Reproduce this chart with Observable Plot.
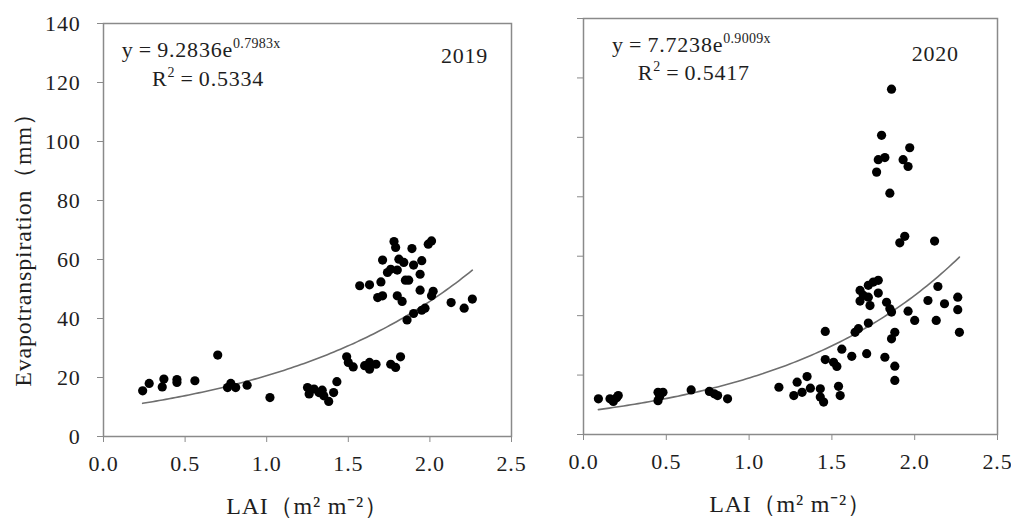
<!DOCTYPE html>
<html>
<head>
<meta charset="utf-8">
<script src="https://cdn.jsdelivr.net/npm/d3@7"></script>
<script src="https://cdn.jsdelivr.net/npm/@observablehq/plot@0.6"></script>
<style>
  html, body { margin: 0; padding: 0; background: #fff; }
  #wrap { position: relative; width: 1011px; height: 522px; overflow: hidden; }
  #left, #right { position: absolute; top: 0; }
  #left { left: 0; }
  #right { left: 520px; }
</style>
</head>
<body>
<div id="wrap"><div id="left"></div><div id="right"></div></div>
<script>
// ---- data ----
const lai2019 = [0.24,0.28,0.36,0.37,0.45,0.45,0.56,0.70,0.76,0.78,0.81,0.88,1.02,
  1.25,1.26,1.29,1.32,1.34,1.35,1.38,1.41,1.43,1.49,1.50,1.53,1.60,1.63,1.63,1.67,1.76,1.79,1.82,
  1.78,1.79,1.89,1.99,2.01,1.71,1.81,1.84,1.90,1.95,1.74,1.76,1.80,1.94,1.70,1.85,1.87,1.57,1.63,
  1.94,1.68,1.71,1.80,1.83,2.02,2.01,1.97,1.95,1.90,1.86,2.13,2.21,2.26];
const et2019 = [15.5,18.0,16.8,19.5,19.3,18.3,18.9,27.6,16.6,18.0,16.6,17.4,13.2,
  16.6,14.4,16.1,14.9,15.7,13.8,11.9,14.9,18.6,27.0,25.1,23.6,24.0,25.1,22.8,24.5,24.5,23.4,27.0,
  66.1,64.1,63.7,65.2,66.3,59.8,60.1,59.0,58.1,59.6,55.6,56.7,56.4,55.0,52.4,53.0,53.0,51.1,51.4,
  49.6,47.1,47.7,47.7,45.8,49.2,47.7,43.5,42.8,41.7,39.5,45.4,43.5,46.6];

const lai2020 = [0.09,0.16,0.18,0.21,0.20,0.45,0.48,0.45,0.46,0.65,0.76,0.79,0.81,0.87,1.18,
  1.27,1.29,1.32,1.35,1.37,1.43,1.43,1.45,1.54,1.55,1.46,1.46,1.51,1.53,1.56,1.62,1.71,1.64,1.66,1.72,
  1.67,1.69,1.72,1.75,1.78,1.78,1.67,1.73,1.72,1.83,1.85,1.86,1.88,1.86,1.82,1.88,1.88,1.96,2.00,
  2.08,2.14,2.18,2.13,2.26,2.26,2.27,
  1.86,1.80,1.97,1.78,1.82,1.77,1.93,1.96,1.85,1.91,1.94,2.12];
const et2020 = [12.0,12.0,11.1,13.1,12.4,14.2,14.2,11.4,12.8,15.0,14.5,13.7,13.1,12.0,15.9,
  13.1,17.6,14.2,19.5,15.6,15.4,12.6,10.9,16.2,13.1,34.7,25.2,24.3,22.9,28.7,26.3,27.2,34.4,35.6,37.5,
  48.5,46.8,50.2,51.3,51.9,47.6,44.9,43.4,46.2,44.5,42.3,41.2,34.4,32.2,26.0,23.0,18.2,41.5,38.4,
  45.1,49.8,44.0,38.4,46.2,42.0,34.4,
  116.2,100.7,96.5,92.5,93.2,88.3,92.5,90.2,81.2,64.5,66.7,65.1];

// exponential fits shown on the chart
const fit2019 = {a: 9.2836, b: 0.7983, r2: "0.5334", year: "2019"};
const fit2020 = {a: 7.7238, b: 0.9009, r2: "0.5417", year: "2020"};

const xTicks = [0, 0.5, 1, 1.5, 2, 2.5];
const yTicks = [0, 20, 40, 60, 80, 100, 120, 140];
const xTitle = "LAI（m² m⁻²）";
const yTitle = "Evapotranspiration（mm）";

const FONT = "'Liberation Serif', 'Times New Roman', serif";
const INK = "#1e1e1e";

function curve(fit, xs) {
  const lo = d3.min(xs), hi = d3.max(xs);
  const pts = [];
  for (let i = 0; i <= 100; i++) {
    const x = lo + (hi - lo) * i / 100;
    pts.push({x, y: fit.a * Math.exp(fit.b * x)});
  }
  return pts;
}

function panel(xs, ys, fit, opts) {
  const pts = xs.map((x, i) => ({x, y: ys[i]}));
  const marks = [
    Plot.frame({stroke: "#8a8a8a", strokeWidth: 1.5}),
    Plot.axisX({ticks: xTicks, tickFormat: d3.format(".1f"), tickSize: 6, tickPadding: 13,
      label: null, stroke: "#8a8a8a", fill: INK, fontSize: 22}),
    Plot.axisY({ticks: yTicks, tickSize: 6, tickPadding: 17, label: null,
      stroke: "#8a8a8a", fill: INK, fontSize: 22,
      tickFormat: opts.yLabels ? (d => String(d)) : (() => "")}),
    Plot.line(curve(fit, xs), {x: "x", y: "y", stroke: "#6e6e6e", strokeWidth: 1.6}),
    Plot.dot(pts, {x: "x", y: "y", r: 4.6, fill: "#000", stroke: "none"}),
    Plot.text([xTitle], {frameAnchor: "bottom", dy: 77, fontSize: 24, fill: INK, textAnchor: "middle"})
  ];
  if (opts.yLabels) {
    marks.push(Plot.text([yTitle], {frameAnchor: "left", textAnchor: "middle", rotate: -90,
      dx: -80, dy: 14, fontSize: 24, fill: INK}));
  }
  const chart = Plot.plot({
    width: opts.width, height: 522,
    marginLeft: opts.ml, marginRight: opts.mr, marginTop: opts.mt, marginBottom: opts.mb,
    x: {domain: [0, 2.5]},
    y: {domain: [0, 140]},
    style: {fontFamily: FONT, fontSize: "22px", background: "transparent", overflow: "visible",
      letterSpacing: "0.8px"},
    marks
  });
  // equation annotations with superscripts
  const sx = chart.scale("x"), sy = chart.scale("y");
  const svg = d3.select(chart);
  const g = svg.append("g").attr("font-family", FONT).attr("fill", INK)
    .attr("font-size", 22).attr("text-anchor", "start");
  const eq = g.append("text").attr("x", sx.apply(opts.eqX)).attr("y", sy.apply(opts.eqY));
  eq.append("tspan").text("y\u2009=\u2009" + fit.a + "e");
  eq.append("tspan").attr("font-size", 14).attr("dy", -9).attr("letter-spacing", "0.3px")
    .text(fit.b.toFixed(4) + "x");
  const r = g.append("text").attr("x", sx.apply(opts.rX)).attr("y", sy.apply(opts.rY));
  r.append("tspan").text("R");
  r.append("tspan").attr("font-size", 14).attr("dy", -9).text("2");
  r.append("tspan").attr("dy", 9).text("\u2009=\u2009" + fit.r2);
  g.append("text").attr("x", sx.apply(opts.yrX)).attr("y", sy.apply(opts.yrY))
    .attr("text-anchor", "end").text(fit.year);
  return chart;
}

document.getElementById("left").append(panel(lai2019, et2019, fit2019, {
  width: 520, ml: 103, mr: 9, mt: 23, mb: 86, yLabels: true,
  eqX: 0.115, eqY: 128.5, rX: 0.3, rY: 118.5, yrX: 2.36, yrY: 126.5
}));
document.getElementById("right").append(panel(lai2020, et2020, fit2020, {
  width: 491, ml: 63, mr: 14, mt: 18, mb: 88, yLabels: false,
  eqX: 0.175, eqY: 128.5, rX: 0.33, rY: 119, yrX: 2.27, yrY: 125.5
}));
</script>
</body>
</html>
